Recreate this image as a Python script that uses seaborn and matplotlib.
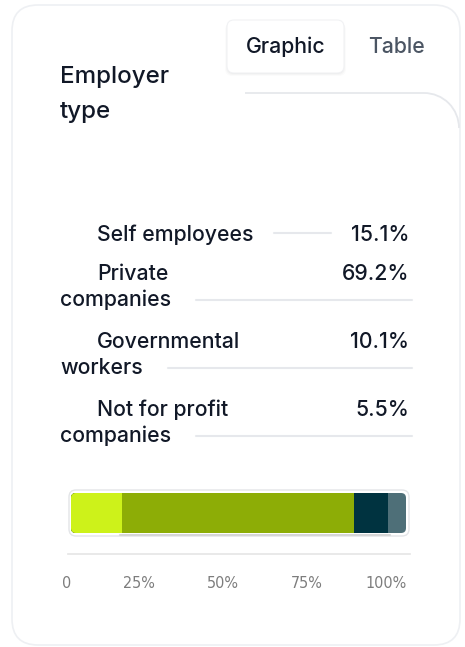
import numpy as np
import pandas as pd
import matplotlib
matplotlib.use('Agg')
import matplotlib.pyplot as plt
from matplotlib.patches import FancyBboxPatch, Arc
import seaborn as sns

# ── Data ──────────────────────────────────────────────────────────
TITLE       = ['Employer', 'type']
CATEGORIES  = ['Self employees', 'Private\ncompanies', 'Governmental\nworkers', 'Not for profit\ncompanies']
SHARES      = [15.1, 69.2, 10.1, 5.5]
COLORS      = ['#cdf21a', '#8dad06', '#003340', '#4e6f78']
TICKS       = [0, 25, 50, 75, 100]
TICK_LABELS = ['0', '25%', '50%', '75%', '100%']

W, H = 465, 647
sns.set_theme(style='white')
plt.rcParams['font.family'] = ['Inter', 'DejaVu Sans']
plt.rcParams['font.weight'] = 500

TEXT_DARK = '#111827'
BORDER    = '#e6e8ec'
FS        = 15.3


def px_rect(ax, x0, y0, x1, y1, r, **kw):
    p = FancyBboxPatch((x0, y0), x1 - x0, y1 - y0,
                       boxstyle=f'round,pad=0,rounding_size={r}', **kw)
    ax.add_patch(p)
    return p


fig = plt.figure(figsize=(W / 100, H / 100), dpi=100)
fig.patch.set_facecolor('white')

# background axes in pixel units (y down)
bg = fig.add_axes([0, 0, 1, 1])
bg.set_xlim(0, W)
bg.set_ylim(H, 0)
bg.axis('off')

# outer card
px_rect(bg, 12, 5, 460, 645, 26, facecolor='white', edgecolor='#eef0f3', lw=1.2)
# inner panel top edge with rounded corner
bg.plot([245, 424], [93, 93], color=BORDER, lw=1.3, solid_capstyle='butt')
bg.add_patch(Arc((424, 128), 70, 70, theta1=270, theta2=360, color=BORDER, lw=1.3))

# tab switcher
for i, a in enumerate([0.035, 0.025, 0.015]):
    px_rect(bg, 227 - i, 21 + i, 344 + i, 74 + i, 7, facecolor='black', alpha=a, lw=0)
px_rect(bg, 227, 20, 344, 73, 7, facecolor='white', edgecolor='#f1f2f4', lw=0.8)
bg.text(285.5, 47, 'Graphic', ha='center', va='center', fontsize=FS, color=TEXT_DARK)
bg.text(396, 47, 'Table', ha='center', va='center', fontsize=FS, color='#4b5563')

# title
bg.text(60, 83, TITLE[0], ha='left', va='baseline', fontsize=17.4, color=TEXT_DARK)
bg.text(60, 118, TITLE[1], ha='left', va='baseline', fontsize=17.4, color=TEXT_DARK)

# legend rows
row_base = [241, 280, 348, 416]
line_h = 26
fig.canvas.draw()
rend = fig.canvas.get_renderer()
inv = bg.transData.inverted()
for lab, val, yb in zip(CATEGORIES, SHARES, row_base):
    parts = lab.split('\n')
    t_first = bg.text(97, yb, parts[0], ha='left', va='baseline', fontsize=FS, color=TEXT_DARK)
    t_val = bg.text(409, yb, f'{val}%', ha='right', va='baseline', fontsize=FS, color=TEXT_DARK)
    if len(parts) == 1:
        e1 = inv.transform(t_first.get_window_extent(rend))
        e2 = inv.transform(t_val.get_window_extent(rend))
        bg.plot([e1[1][0] + 20, e2[0][0] - 20], [yb - 8, yb - 8], color=BORDER, lw=1.5)
    else:
        t2 = bg.text(60, yb + line_h, parts[1], ha='left', va='baseline', fontsize=FS, color=TEXT_DARK)
        e = inv.transform(t2.get_window_extent(rend))
        bg.plot([e[1][0] + 25, 412], [yb + line_h - 6, yb + line_h - 6], color=BORDER, lw=1.5)

# bar frame + soft shadow
px_rect(bg, 69, 490, 409, 536, 7, facecolor='white', edgecolor='#e3e5e8', lw=1.0)
bg.plot([120, 390], [534.5, 534.5], color='#d6d6d6', lw=1.5)
clip = FancyBboxPatch((71, 493), 335, 40, boxstyle='round,pad=0,rounding_size=5',
                      transform=bg.transData)

# stacked bar via cumulative seaborn bars
ax = fig.add_axes([71 / W, 1 - 533 / H, (407 - 71) / W, 40 / H])
cum = np.cumsum(SHARES)
df = pd.DataFrame({'group': ['all'] * len(cum), 'cum': cum, 'color': COLORS})
for _, r in df.iloc[::-1].iterrows():
    sns.barplot(x=[r['cum']], y=[r['group']], color=r['color'], orient='h',
                width=1, saturation=1, errorbar=None, ax=ax)
for p in ax.patches:
    p.set_clip_path(clip)
    p.set_linewidth(0)

ax.set_xlim(0, 100)
ax.set_ylim(0.5, -0.5)
ax.set_facecolor('none')
ax.set_xlabel('')
ax.set_ylabel('')
ax.set_yticks([])
for s in ['top', 'left', 'right']:
    ax.spines[s].set_visible(False)
ax.spines['bottom'].set_position(('outward', 15))
ax.spines['bottom'].set_color('#e5e5e5')
ax.spines['bottom'].set_linewidth(1.2)
ax.spines['bottom'].set_bounds(-0.9, 100.9)
ax.set_xticks(TICKS)
ax.set_xticklabels(TICK_LABELS)
ax.tick_params(axis='x', length=0, pad=16, colors='#7d7d7d', labelsize=11.5)
for t in ax.get_xticklabels():
    t.set_ha('right')
    t.set_family(['Liberation Sans Narrow', 'DejaVu Sans'])
    t.set_fontstretch('condensed')
    t.set_fontweight('normal')

fig.savefig('out.png', dpi=100, facecolor='white')
